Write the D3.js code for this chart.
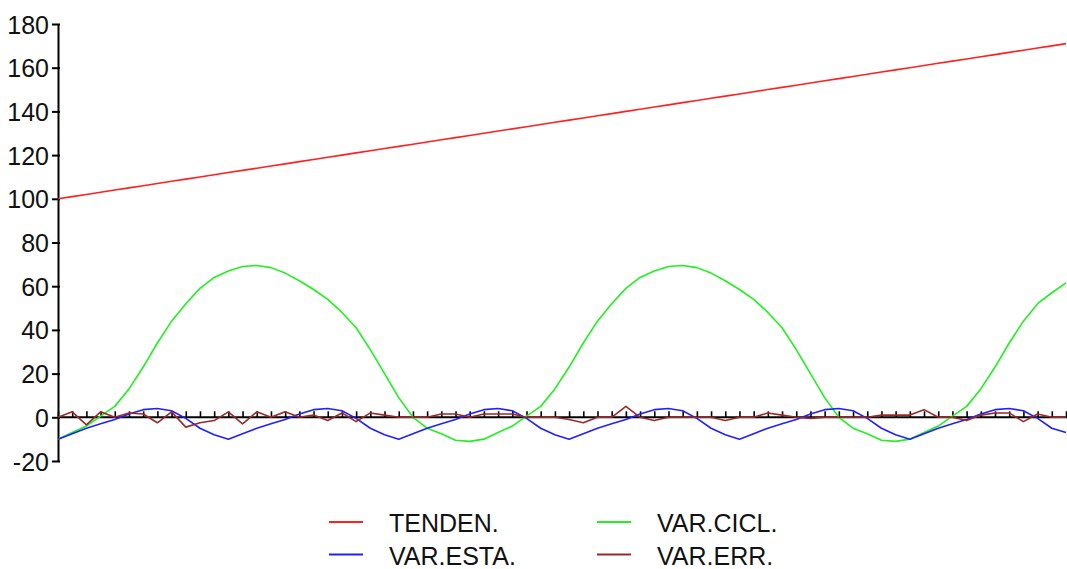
<!DOCTYPE html>
<html>
<head>
<meta charset="utf-8">
<script src="https://cdn.jsdelivr.net/npm/d3@7"></script>
<style>
  html, body { margin: 0; padding: 0; background: #fff; }
  svg { display: block; }
  text { font-family: "Liberation Sans", Arial, sans-serif; fill: #111; }
</style>
</head>
<body>
<svg id="chart" width="1067" height="569"></svg>
<script>
// ---- data ----
const periods = d3.range(72); // 72 observations (x positions)

const tenden = [100,101,102,103,104,105,106,107,108,109,110,111,112,113,114,115,116,117,118,119,120,121,122,123,
                124,125,126,127,128,129,130,131,132,133,134,135,136,137,138,139,140,141,142,143,144,145,146,147,
                148,149,150,151,152,153,154,155,156,157,158,159,160,161,162,163,164,165,166,167,168,169,170,171];

const varCicl = [-10,-7,-4,0.5,5,13,23,34,44,52,59,64,67,69,69.5,68.5,66,62.5,58.5,54,48,41,31,20,9,0,-5,-7.5,-10.5,-11,
                 -10,-7,-4,0.5,5,13,23,34,44,52,59,64,67,69,69.5,68.5,66,62.5,58.5,54,48,41,31,20,9,0,-5,-7.5,-10.5,-11,
                 -10,-7,-4,0.5,5,13,23,34,44,52,57,61.5];

const varEsta = [-10,-7.5,-5,-3,-1,1.5,3.5,4,3,-0.5,-5,-8,
                 -10,-7.5,-5,-3,-1,1.5,3.5,4,3,-0.5,-5,-8,
                 -10,-7.5,-5,-3,-1,1.5,3.5,4,3,-0.5,-5,-8,
                 -10,-7.5,-5,-3,-1,1.5,3.5,4,3,-0.5,-5,-8,
                 -10,-7.5,-5,-3,-1,1.5,3.5,4,3,-0.5,-5,-8,
                 -10,-7.5,-5,-3,-1,1.5,3.5,4,3,-0.5,-5,-7];

const varErr = [0,2.5,-3.5,2.5,0,2,1.5,-2.5,2.5,-4.5,-2.5,-1.5,2.5,-3,2.5,0,2.5,0,
                1,-1.5,2,-2,2,1,0,0,0,1.5,1.5,0,1.5,1.5,1.5,0,0,
                0,-1,-2.5,0,0,5,0,-1.5,0,0,0,0,-1.5,0,0,2,1,0,
                -0.5,0,0,0,0,1,1,1,3.5,0,0,-1.5,1,2,2,-2,1.5,0,0];

const yTicks = [-20,0,20,40,60,80,100,120,140,160,180];
const yTickLabels = ["-20","0","20","40","60","80","100","120","140","160","180"];

const seriesNames = ["TENDEN.","VAR.CICL.","VAR.ESTA.","VAR.ERR."];
const seriesValues = [tenden, varCicl, varEsta, varErr];
const seriesColors = ["#ff2020","#20f020","#2020ff","#9a2a2a"];
// legend grid slot (col,row) per series
const legendCol = [0,1,0,1];
const legendRow = [0,0,1,1];

// ---- drawing ----
const svg = d3.select("#chart");
const x = d3.scaleLinear().domain([0,71]).range([58,1066]);
const y = d3.scaleLinear().domain([-20,180]).range([461,24]);

// zero axis with upward ticks
const gx = svg.append("g").attr("transform", `translate(0,${y(0)})`);
gx.call(d3.axisTop(x).tickValues(periods).tickSize(6).tickFormat(""));
gx.select(".domain").attr("d", `M${x(0)},0H1067`).attr("stroke","#000").attr("stroke-width",2);
gx.selectAll(".tick line").attr("stroke","#000").attr("stroke-width",1.6);

// y axis
const gy = svg.append("g").attr("transform", `translate(${x(0)},0)`);
gy.call(d3.axisLeft(y).tickValues(yTicks).tickSize(6).tickPadding(3).tickSizeOuter(0)
  .tickFormat((d,i)=>yTickLabels[i]));
gy.select(".domain").attr("stroke","#000").attr("stroke-width",2);
gy.selectAll(".tick line").attr("stroke","#000").attr("stroke-width",2).attr("x2",-6).attr("x1",2);
gy.selectAll(".tick text").attr("font-size",25).attr("font-family","Liberation Sans, Arial, sans-serif")
  .attr("fill","#111").attr("dy","0.36em");

// lines
const line = d3.line().x((d,i)=>x(periods[i])).y(d=>y(d));
seriesValues.forEach((vals, k) => {
  svg.append("path").datum(vals)
    .attr("fill","none")
    .attr("stroke", seriesColors[k])
    .attr("stroke-width", 1.6)
    .attr("stroke-linejoin","round")
    .attr("d", line);
});

// legend
const lg = svg.append("g");
seriesNames.forEach((name, k) => {
  const lx = 329 + legendCol[k]*268;
  const ly = 522 + legendRow[k]*32.5;
  lg.append("line").attr("x1",lx).attr("x2",lx+34).attr("y1",ly).attr("y2",ly)
    .attr("stroke",seriesColors[k]).attr("stroke-width",2);
  lg.append("text").attr("x",lx+60).attr("y",ly+10).attr("font-size",25).text(name);
});
</script>
</body>
</html>
